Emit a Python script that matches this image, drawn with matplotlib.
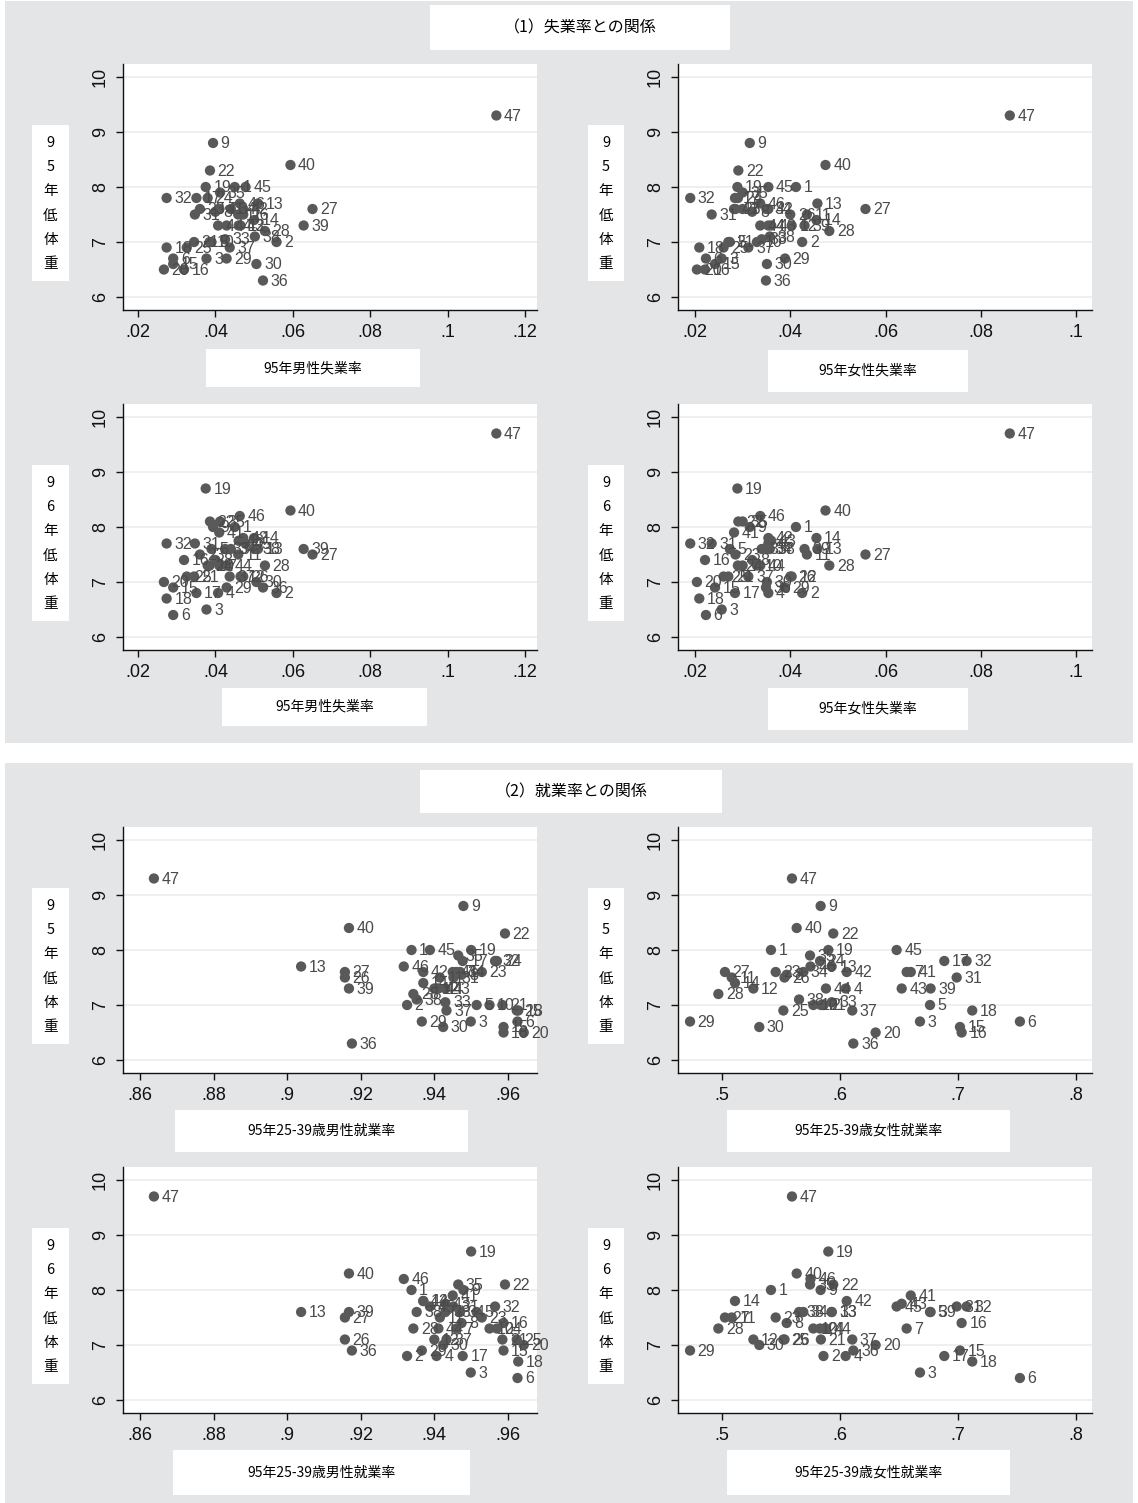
import matplotlib
matplotlib.use("Agg")
import matplotlib.pyplot as plt
from matplotlib.patches import Rectangle

plt.rcParams['font.family'] = ['Liberation Sans', 'Noto Sans CJK JP']

# prefecture codes 1..47
pref = list(range(1, 48))

# 95 male / female unemployment rate
mu = [.045, .0558, .0377, .0407, .039, .0291, .041, .040, .0394, .0385,
      .0459, .0465, .051, .050, .0291, .0319, .0351, .0274, .0375, .0267,
      .0345, .0386, .036, .038, .0326, .0472, .0651, .0528, .0429, .0506,
      .0347, .0274, .0425, .044, .0412, .0523, .0437, .0502, .0628, .0594,
      .041, .0472, .046, .0429, .0478, .0463, .1126]
fu = [.0412, .0425, .0256, .0354, .0273, .0223, .030, .032, .0315, .033,
      .0435, .0403, .0457, .0455, .0242, .0221, .0284, .0209, .0289, .0204,
      .027, .0291, .0285, .029, .026, .040, .0558, .0482, .0389, .0351,
      .0235, .019, .034, .035, .030, .0349, .0312, .0357, .043, .0474,
      .0282, .0354, .036, .0337, .0354, .0337, .0861]

# 95 employment rate, age 25-39, male / female
me = [.9338, .9326, .9499, .9406, .9515, .9626, .946, .9474, .9479, .955,
      .9415, .940, .9038, .937, .9588, .9588, .9477, .9628, .950, .9643,
      .9585, .9592, .9529, .957, .9624, .9157, .9157, .9343, .9366, .9424,
      .9452, .9565, .943, .947, .9465, .9176, .9433, .9352, .9168, .9168,
      .945, .937, .943, .9411, .9388, .9317, .8638]
fe = [.5415, .586, .6678, .6048, .6763, .7525, .6565, .5548, .5836, .5774,
      .5082, .5266, .5929, .511, .7017, .7031, .6884, .7121, .5901, .6302,
      .5838, .5943, .5455, .5831, .552, .553, .5025, .4969, .4729, .5316,
      .6989, .7073, .593, .5689, .5746, .6113, .6104, .5653, .6768, .5633,
      .66, .6057, .6523, .5881, .648, .575, .5593]

# low birth weight, 1995 / 1996
lb95 = [8.0, 7.0, 6.7, 7.3, 7.0, 6.7, 7.6, 7.55, 8.8, 7.0,
        7.5, 7.3, 7.7, 7.4, 6.6, 6.5, 7.8, 6.9, 8.0, 6.5,
        7.0, 8.3, 7.6, 7.8, 6.9, 7.5, 7.6, 7.2, 6.7, 6.6,
        7.5, 7.8, 7.05, 7.6, 7.9, 6.3, 6.9, 7.1, 7.3, 8.4,
        7.6, 7.6, 7.3, 7.3, 8.0, 7.7, 9.3]
lb96 = [8.0, 6.8, 6.5, 6.8, 7.6, 6.4, 7.3, 7.4, 8.0, 7.3,
        7.5, 7.1, 7.6, 7.8, 6.9, 7.4, 6.8, 6.7, 8.7, 7.0,
        7.1, 8.1, 7.5, 7.3, 7.1, 7.1, 7.5, 7.3, 6.9, 7.0,
        7.7, 7.7, 7.6, 7.6, 8.1, 6.9, 7.1, 7.6, 7.6, 8.3,
        7.9, 7.8, 7.75, 7.3, 7.7, 8.2, 9.7]

mu_ticks = [.02, .04, .06, .08, .1, .12]
mu_labels = ['.02', '.04', '.06', '.08', '.1', '.12']
fu_ticks = [.02, .04, .06, .08, .1]
fu_labels = ['.02', '.04', '.06', '.08', '.1']
me_ticks = [.86, .88, .9, .92, .94, .96]
me_labels = ['.86', '.88', '.9', '.92', '.94', '.96']
fe_ticks = [.5, .6, .7, .8]
fe_labels = ['.5', '.6', '.7', '.8']
y_ticks = [6, 7, 8, 9, 10]

W, H = 1138, 1503
GRAY = '#e4e5e7'

fig = plt.figure(figsize=(W / 100, H / 100), dpi=100)
fig.patch.set_facecolor('white')


def rect(x0, y0, x1, y1, color, z=-5):
    fig.patches.append(Rectangle((x0 / W, 1 - y1 / H), (x1 - x0) / W, (y1 - y0) / H,
                                 transform=fig.transFigure, facecolor=color,
                                 edgecolor='none', zorder=z))


def ftext(x, y, s, **kw):
    fig.text(x / W, 1 - y / H, s, **kw)


# gray section backgrounds
rect(5, 1, 1133, 743, GRAY, -10)
rect(5, 763, 1133, 1503, GRAY, -10)

# section titles
rect(430, 5, 730, 50, 'white')
ftext(580, 28, '（1）失業率との関係', ha='center', va='center', fontsize=11.5,
      family=['Noto Sans CJK JP'])
rect(420, 770, 722, 813, 'white')
ftext(571, 792, '（2）就業率との関係', ha='center', va='center', fontsize=11.5,
      family=['Noto Sans CJK JP'])

# panel settings: x data, y data, xlim, ticks, labels, x title, y title, col, row top
panels = [
    (mu, lb95, (.01613, .1231), mu_ticks, mu_labels, '95年男性失業率', '95', 0, 64, (206, 349, 420, 387)),
    (fu, lb95, (.01643, .10336), fu_ticks, fu_labels, '95年女性失業率', '95', 1, 64, (768, 350, 968, 392)),
    (mu, lb96, (.01613, .1231), mu_ticks, mu_labels, '95年男性失業率', '96', 0, 404, (222, 688, 427, 726)),
    (fu, lb96, (.01643, .10336), fu_ticks, fu_labels, '95年女性失業率', '96', 1, 404, (768, 688, 968, 730)),
    (me, lb95, (.8554, .9679), me_ticks, me_labels, '95年25-39歳男性就業率', '95', 0, 827, (175, 1110, 468, 1152)),
    (fe, lb95, (.4627, .8136), fe_ticks, fe_labels, '95年25-39歳女性就業率', '95', 1, 827, (727, 1110, 1010, 1152)),
    (me, lb96, (.8554, .9679), me_ticks, me_labels, '95年25-39歳男性就業率', '96', 0, 1167, (173, 1450, 470, 1495)),
    (fe, lb96, (.4627, .8136), fe_ticks, fe_labels, '95年25-39歳女性就業率', '96', 1, 1167, (727, 1450, 1010, 1495)),
]

col_left = [123, 678]
ax_w, ax_h = 414, 246
ytitle_x = [(32, 69), (588, 624)]

for xs, ys, xlim, xt, xl, xtitle, yr, col, top, xbox in panels:
    left = col_left[col]
    ax = fig.add_axes([left / W, 1 - (top + ax_h) / H, ax_w / W, ax_h / H])
    ax.set_zorder(1)
    ax.set_facecolor('white')
    ax.set_xlim(*xlim)
    ax.set_ylim(5.764, 10.236)
    ax.set_xticks(xt)
    ax.set_xticklabels(xl)
    ax.set_yticks(y_ticks)
    ax.set_yticklabels([str(v) for v in y_ticks], rotation=90, va='center')
    ax.tick_params(axis='both', direction='out', length=5, width=1, labelsize=13,
                   colors='#111111', pad=5)
    for s in ['top', 'right']:
        ax.spines[s].set_visible(False)
    for s in ['left', 'bottom']:
        ax.spines[s].set_color('#111111')
        ax.spines[s].set_linewidth(1)
    ax.grid(axis='y', color='#ececec', linewidth=1.2)
    ax.set_axisbelow(True)
    ax.scatter(xs, ys, s=55, color='#595959', edgecolors='none', zorder=3)
    for p, x, y in zip(pref, xs, ys):
        ax.annotate(str(p), (x, y), xytext=(5.5, -0.5), textcoords='offset points',
                    va='center', ha='left', fontsize=11.5, color='#4a4a4a', zorder=4)

    # x title box
    x0, y0, x1, y1 = xbox
    rect(x0, y0, x1, y1, 'white')
    ftext((x0 + x1) / 2, (y0 + y1) / 2, xtitle, ha='center', va='center',
          fontsize=10, family=['Noto Sans CJK JP'])

    # vertical y title box
    tx0, tx1 = ytitle_x[col]
    ty0 = top + 61
    rect(tx0, ty0, tx1, ty0 + 156, 'white')
    chars = [yr[0], yr[1], '年', '低', '体', '重']
    for i, ch in enumerate(chars):
        ftext((tx0 + tx1) / 2, ty0 + 18 + i * 24.2, ch, ha='center', va='center',
              fontsize=10.5, family=['Noto Sans CJK JP'])

fig.savefig('out.png', dpi=100, facecolor=fig.get_facecolor())
